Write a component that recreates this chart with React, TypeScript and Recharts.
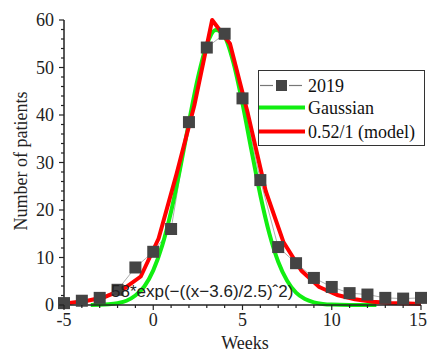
import React from 'react';
import { LineChart, Line, XAxis, YAxis, Legend, Label } from 'recharts';

// Observed weekly counts (2019)
const obsWeeks = [-5, -4, -3, -2, -1, 0, 1, 2, 3, 4, 5, 6, 7, 8, 9, 10, 11, 12, 13, 14, 15];
const obsValues = [0.4, 0.9, 1.5, 3.2, 7.9, 11.2, 16, 38.5, 54.2, 57.1, 43.5, 26.3, 12.2, 8.8, 5.7, 3.8, 2.5, 2.2, 1.5, 1.35, 1.5];

// Gaussian fit curve
const gaussWeeks = [-3.5, -3, -2.5, -2, -1.5, -1, -0.5, 0, 0.5, 1, 1.5, 2, 2.5, 3, 3.5, 4, 4.5, 5, 5.5, 6, 6.5, 7, 7.5, 8, 8.5, 9, 9.5, 10, 11, 12, 12.5];
const gaussValues = [0.02, 0.05, 0.15, 0.4, 0.9, 2.0, 3.9, 7.3, 12.5, 19.7, 28.6, 38.5, 47.8, 54.8, 57.9, 56.5, 50.9, 42.4, 32.6, 23.1, 15.1, 9.1, 5.1, 2.6, 1.25, 0.55, 0.22, 0.08, 0.01, 0, 0];

// Model curve 0.52/1
const modelWeeks = [-5, -4.7, -3.7, -2.7, -1.7, -0.7, 0.3, 1.3, 2.3, 3.3, 4.3, 5.3, 6.3, 7.3, 8.3, 9.3, 10.3, 11.3, 12.3, 13.3, 14.3, 15];
const modelValues = [0.3, 0.4, 0.9, 1.7, 3.3, 6.0, 14.0, 27.5, 42.0, 60.0, 55.0, 40.3, 24.0, 13.2, 7.2, 3.8, 2.1, 1.2, 0.7, 0.4, 0.3, 0.2];

const xTicks = [-5, -4, -3, -2, -1, 0, 1, 2, 3, 4, 5, 6, 7, 8, 9, 10, 11, 12, 13, 14, 15];
const yTicks = [0, 2, 4, 6, 8, 10, 12, 14, 16, 18, 20, 22, 24, 26, 28, 30, 32, 34, 36, 38, 40, 42, 44, 46, 48, 50, 52, 54, 56, 58, 60];
const seriesNames = ['2019', 'Gaussian', '0.52/1 (model)'];
const annotation = '58*exp(\u2212((x\u22123.6)/2.5)\u02c62)';

const obsData = obsWeeks.map((x, i) => ({ x, y: obsValues[i] }));
const gaussData = gaussWeeks.map((x, i) => ({ x, y: gaussValues[i] }));
const modelData = modelWeeks.map((x, i) => ({ x, y: modelValues[i] }));

const SERIF = '"Liberation Serif", "Times New Roman", serif';
const SANS = '"Liberation Sans", Arial, sans-serif';
const AXIS = '#222';
const GREEN = '#11ee11';
const RED = '#ff0000';
const SQ = '#444';
const CHART_W = 428;

const XTick = (props: any) => {
  const { x, y, payload } = props;
  const v = payload.value;
  const major = v % 5 === 0;
  const nearEdge = x + 10 > CHART_W;
  return (
    <g>
      <line x1={x} y1={y} x2={x} y2={y + (major ? 5 : 3)} stroke={AXIS} strokeWidth={1.2} />
      {major && (
        <text
          x={nearEdge ? CHART_W - 1 : x}
          y={y + 21}
          textAnchor={nearEdge ? 'end' : 'middle'}
          fontFamily={SERIF}
          fontSize={18}
          fill={AXIS}
        >
          {v}
        </text>
      )}
    </g>
  );
};

const YTick = (props: any) => {
  const { x, y, payload } = props;
  const v = payload.value;
  const major = v % 10 === 0;
  return (
    <g>
      <line x1={x} y1={y} x2={x - (major ? 5 : 3)} y2={y} stroke={AXIS} strokeWidth={1.2} />
      {major && (
        <text x={x - 10} y={y + 6} textAnchor="end" fontFamily={SERIF} fontSize={18} fill={AXIS}>
          {v}
        </text>
      )}
    </g>
  );
};

const SquareDot = (p: any) => {
  if (p.cx == null || p.cy == null) return null;
  return <rect key={`sq-${p.index}`} x={p.cx - 6} y={p.cy - 6} width={12} height={12} fill={SQ} />;
};

const LegendBox = () => (
  <svg width={167} height={76} style={{ display: 'block' }}>
    <rect x={0.5} y={0.5} width={166} height={75} fill="#fff" stroke="#333" strokeWidth={1} />
    <line x1={2} y1={15.5} x2={15} y2={15.5} stroke="#777" strokeWidth={1.2} />
    <line x1={31} y1={15.5} x2={44} y2={15.5} stroke="#777" strokeWidth={1.2} />
    <rect x={18} y={10} width={11} height={11} fill={SQ} />
    <text x={50} y={21.5} fontFamily={SERIF} fontSize={18} fill="#111">{seriesNames[0]}</text>
    <line x1={1} y1={37.5} x2={47} y2={37.5} stroke={GREEN} strokeWidth={4} />
    <text x={50} y={43.5} fontFamily={SERIF} fontSize={18} fill="#111">{seriesNames[1]}</text>
    <line x1={1} y1={61.5} x2={47} y2={61.5} stroke={RED} strokeWidth={4} />
    <text x={50} y={67.5} fontFamily={SERIF} fontSize={18} fill="#111">{seriesNames[2]}</text>
  </svg>
);

export default function App() {
  return (
    <div style={{ position: 'absolute', left: 0, top: 0, width: 428, height: 354, background: '#fff' }}>
      <LineChart width={CHART_W} height={354} margin={{ top: 20, right: 7, bottom: 0, left: 0 }}>
        <XAxis
          type="number"
          dataKey="x"
          domain={[-5, 15]}
          ticks={xTicks}
          interval={0}
          height={49}
          tickSize={0}
          tickMargin={0}
          tick={<XTick />}
          axisLine={{ stroke: AXIS, strokeWidth: 1.5 }}
          allowDuplicatedCategory={false}
        >
          <Label
            content={() => (
              <g>
                <text x={245} y={349} textAnchor="middle" fontFamily={SERIF} fontSize={18} fill={AXIS}>
                  Weeks
                </text>
              </g>
            )}
          />
        </XAxis>
        <YAxis
          type="number"
          dataKey="y"
          domain={[0, 60]}
          ticks={yTicks}
          interval={0}
          width={64}
          tickSize={0}
          tickMargin={0}
          tick={<YTick />}
          axisLine={{ stroke: AXIS, strokeWidth: 1.5 }}
        >
          <Label
            content={() => (
              <text
                x={27}
                y={161}
                transform="rotate(-90, 27, 161)"
                textAnchor="middle"
                fontFamily={SERIF}
                fontSize={18}
                fill={AXIS}
              >
                Number of patients
              </text>
            )}
          />
        </YAxis>
        <Line
          data={obsData}
          dataKey="y"
          type="linear"
          stroke="#999"
          strokeWidth={0.8}
          dot={<SquareDot />}
          activeDot={false}
          isAnimationActive={false}
          name={seriesNames[0]}
        />
        <Line
          data={gaussData}
          dataKey="y"
          type="monotone"
          stroke={GREEN}
          strokeWidth={4}
          dot={false}
          activeDot={false}
          isAnimationActive={false}
          name={seriesNames[1]}
        />
        <Line
          data={modelData}
          dataKey="y"
          type="linear"
          stroke={RED}
          strokeWidth={4}
          strokeLinejoin="round"
          dot={false}
          activeDot={false}
          isAnimationActive={false}
          name={seriesNames[2]}
        />
        <Legend
          layout="vertical"
          align="center"
          verticalAlign="middle"
          wrapperStyle={{ position: 'absolute', left: 258, top: 70, width: 167, height: 76 }}
          content={() => <LegendBox />}
        />
      </LineChart>
      <svg width={428} height={354} style={{ position: 'absolute', left: 0, top: 0, pointerEvents: 'none' }}>
        <text x={111} y={297} fontFamily={SANS} fontSize={17} fill="#222">{annotation}</text>
      </svg>
    </div>
  );
}
